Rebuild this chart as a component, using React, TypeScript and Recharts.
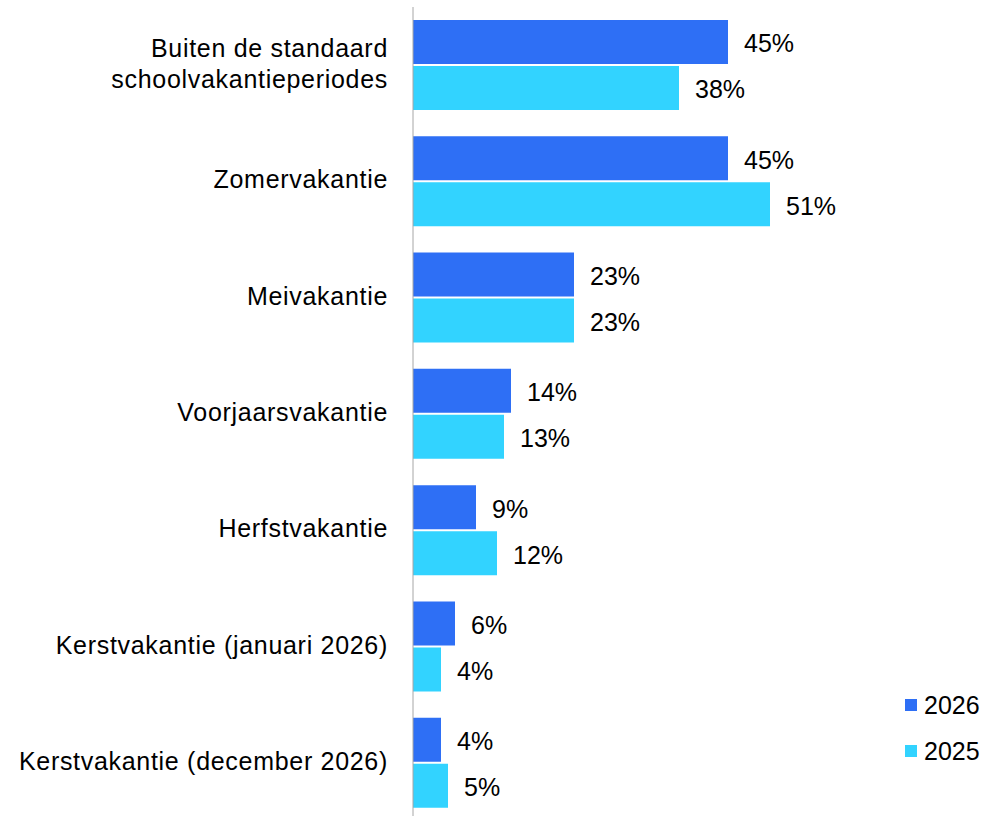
import React from 'react';
import { BarChart, Bar, XAxis, YAxis, LabelList, Legend } from 'recharts';

const categories = [
  'Buiten de standaard\nschoolvakantieperiodes',
  'Zomervakantie',
  'Meivakantie',
  'Voorjaarsvakantie',
  'Herfstvakantie',
  'Kerstvakantie (januari 2026)',
  'Kerstvakantie (december 2026)',
];
const values2026 = [45, 45, 23, 14, 9, 6, 4];
const values2025 = [38, 51, 23, 13, 12, 4, 5];
const seriesKeys = ['2026', '2025'];
const COLORS = ['#2e6ff5', '#32d3ff'];

const FONT = "'Liberation Sans', Arial, sans-serif";

const data = categories.map((name, i) => ({
  name,
  '2026': values2026[i],
  '2025': values2025[i],
}));

function CategoryTick({ x, y, payload }: any) {
  const lines = String(payload.value).split('\n');
  const lineHeight = 31;
  const firstDy = -((lines.length - 1) / 2) * lineHeight + 7;
  return (
    <text x={x} y={y} textAnchor="end" fontSize={25} fontFamily={FONT} fill="#000" letterSpacing={0.7}>
      {lines.map((line, i) => (
        <tspan key={i} x={x} dy={i === 0 ? firstDy : lineHeight}>
          {line}
        </tspan>
      ))}
    </text>
  );
}

function LegendContent() {
  return (
    <div style={{ fontFamily: FONT, fontSize: 25, color: '#000' }}>
      {seriesKeys.map((key, i) => (
        <div key={key} style={{ display: 'flex', alignItems: 'center', height: 46 }}>
          <span style={{ width: 12, height: 12, background: COLORS[i], display: 'inline-block', marginRight: 7 }} />
          <span>{key}</span>
        </div>
      ))}
    </div>
  );
}

export default function App() {
  return (
    <div style={{ position: 'absolute', left: 0, top: 0, width: 986, height: 816, overflow: 'hidden', background: '#fff' }}>
      <BarChart
        width={986}
        height={830}
        data={data}
        layout="vertical"
        margin={{ top: 7, right: 13, bottom: 9, left: 0 }}
        barSize={44}
        barGap={2}
      >
        <XAxis type="number" hide domain={[0, 80]} />
        <YAxis
          type="category"
          dataKey="name"
          width={413}
          tickLine={false}
          tickSize={0}
          tickMargin={25}
          axisLine={{ stroke: '#a6a6a6', strokeWidth: 1 }}
          tick={<CategoryTick />}
          interval={0}
        />
        <Legend
          layout="vertical"
          align="center"
          verticalAlign="middle"
          content={<LegendContent />}
          wrapperStyle={{ left: 905, top: 682, width: 'auto' }}
        />
        {seriesKeys.map((key, i) => (
          <Bar key={key} dataKey={key} fill={COLORS[i]} isAnimationActive={false}>
            <LabelList
              dataKey={key}
              position="right"
              offset={16}
              dy={1.5}
              formatter={(v: any) => `${v}%`}
              style={{ fontSize: 25, fontFamily: FONT, fill: '#000' }}
            />
          </Bar>
        ))}
      </BarChart>
    </div>
  );
}
